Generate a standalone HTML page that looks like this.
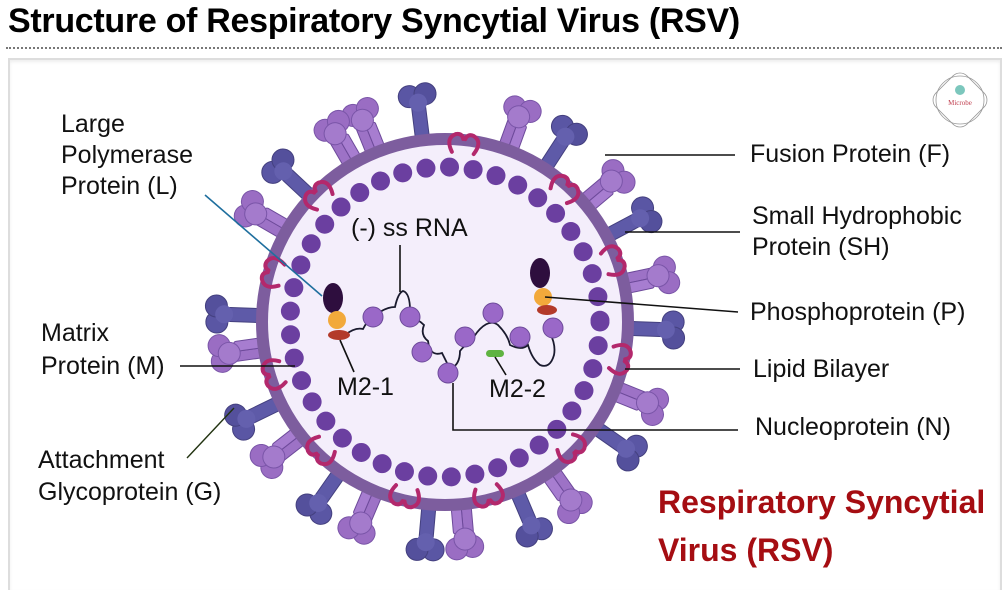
<!DOCTYPE html>
<html><head><meta charset="utf-8"><style>
html,body{margin:0;padding:0;background:#fff;}
body{width:1004px;height:587px;overflow:hidden;position:relative;font-family:"Liberation Sans",sans-serif;}
.t{position:absolute;font-size:25px;line-height:31px;color:#111;white-space:nowrap;}
</style></head><body>
<div style="position:absolute;left:8px;top:2px;font:bold 34px 'Liberation Sans',sans-serif;letter-spacing:-0.3px;color:#000;">Structure of Respiratory Syncytial Virus (RSV)</div>
<div style="position:absolute;left:6px;top:47px;width:996px;border-top:2px dotted #777;"></div>
<div style="position:absolute;left:8px;top:58px;width:990px;height:530px;border:2px solid #ddd;border-bottom:none;box-shadow:inset 0 2px 3px #eee;"></div>
<svg style="position:absolute;left:0;top:0" width="1004" height="587">
<defs>
<g id="F">
<rect x="-10" y="-30" width="10" height="36" rx="2" fill="#9d72c6" stroke="#6d4a9a" stroke-width="1"/>
<rect x="0" y="-26" width="10" height="32" rx="2" fill="#a77dd0" stroke="#6d4a9a" stroke-width="1"/>
<circle cx="-8" cy="-40" r="11" fill="#9a6dc3" stroke="#7a55a8"/>
<circle cx="8" cy="-41" r="11" fill="#9a6dc3" stroke="#7a55a8"/>
<circle cx="-1" cy="-32" r="11" fill="#a47bcc" stroke="#7a55a8"/>
</g>
<g id="G">
<rect x="-7" y="-32" width="14" height="38" rx="3" fill="#5e5aa8" stroke="#44407f" stroke-width="1"/>
<circle cx="-8" cy="-42" r="11" fill="#5a56a4" stroke="#44407f"/>
<circle cx="8" cy="-43" r="11" fill="#54509c" stroke="#44407f"/>
<circle cx="0" cy="-35" r="9" fill="#6460ae"/>
</g>
<g id="M" fill="none" stroke="#b3286c" stroke-width="4" stroke-linecap="round">
<path d="M-11,8 q-8,-13 2,-18 q6,-2 8,4"/>
<path d="M11,8 q8,-13 -2,-18 q-6,-2 -8,4"/>
</g>
</defs>
<g transform="translate(445,322)">
<circle r="183" fill="#f4eefb"/>
<circle r="155" fill="none" stroke="#6b3fa0" stroke-width="19" stroke-dasharray="0 23.7" stroke-linecap="round"/>
<g>
<use href="#F" transform="rotate(-22) translate(0,-186)"/>
<use href="#G" transform="rotate(-7) translate(0,-186)"/>
<use href="#F" transform="rotate(20) translate(0,-186)"/>
<use href="#G" transform="rotate(33) translate(0,-186)"/>
<use href="#F" transform="rotate(50) translate(0,-186)"/>
<use href="#G" transform="rotate(62) translate(0,-186)"/>
<use href="#F" transform="rotate(78) translate(0,-186)"/>
<use href="#G" transform="rotate(92) translate(0,-186)"/>
<use href="#F" transform="rotate(112) translate(0,-186)"/>
<use href="#G" transform="rotate(125) translate(0,-186)"/>
<use href="#F" transform="rotate(145) translate(0,-186)"/>
<use href="#G" transform="rotate(157) translate(0,-186)"/>
<use href="#F" transform="rotate(175) translate(0,-186)"/>
<use href="#G" transform="rotate(185) translate(0,-186)"/>
<use href="#F" transform="rotate(203) translate(0,-186)"/>
<use href="#G" transform="rotate(215) translate(0,-186)"/>
<use href="#F" transform="rotate(232) translate(0,-186)"/>
<use href="#G" transform="rotate(244) translate(0,-186)"/>
<use href="#F" transform="rotate(262) translate(0,-186)"/>
<use href="#G" transform="rotate(272) translate(0,-186)"/>
<use href="#F" transform="rotate(300) translate(0,-186)"/>
<use href="#G" transform="rotate(313) translate(0,-186)"/>
<use href="#F" transform="rotate(330) translate(0,-186)"/>
</g>
<circle r="183" fill="none" stroke="#7d5d9e" stroke-width="12"/>
<use href="#M" transform="rotate(6) translate(0,-178)"/>
<use href="#M" transform="rotate(42) translate(0,-178)"/>
<use href="#M" transform="rotate(70) translate(0,-178)"/>
<use href="#M" transform="rotate(102) translate(0,-178)"/>
<use href="#M" transform="rotate(135) translate(0,-178)"/>
<use href="#M" transform="rotate(166) translate(0,-178)"/>
<use href="#M" transform="rotate(193) translate(0,-178)"/>
<use href="#M" transform="rotate(224) translate(0,-178)"/>
<use href="#M" transform="rotate(253) translate(0,-178)"/>
<use href="#M" transform="rotate(286) translate(0,-178)"/>
<use href="#M" transform="rotate(315) translate(0,-178)"/>
</g>
<path d="M345,335 q10,-8 18,-6 q4,-8 10,-12 q12,-10 22,-10 q3,-14 8,-16 q8,2 7,26 q8,2 14,8 q-4,10 4,16 q2,16 14,12 q4,8 8,16 q10,-4 10,-18 q6,-8 10,-6 q4,-10 10,-16 q10,-10 18,-4 q10,10 12,20 q12,6 18,0 q4,14 12,20 q10,4 14,-10 q2,-10 -4,-22" fill="none" stroke="#1a1a2e" stroke-width="1.8"/>
<g fill="#9a68c8" stroke="#6d4a9a">
<circle cx="373" cy="317" r="10"/><circle cx="410" cy="317" r="10"/><circle cx="422" cy="352" r="10"/><circle cx="448" cy="373" r="10"/><circle cx="465" cy="337" r="10"/><circle cx="493" cy="313" r="10"/><circle cx="520" cy="337" r="10"/><circle cx="553" cy="328" r="10"/>
</g>
<ellipse cx="333" cy="298" rx="10" ry="15" fill="#2e0e3e"/>
<circle cx="337" cy="320" r="9" fill="#f2a93b"/>
<ellipse cx="339" cy="335" rx="11" ry="5" fill="#b33a2a"/>
<ellipse cx="540" cy="273" rx="10" ry="15" fill="#2e0e3e"/>
<circle cx="543" cy="297" r="9" fill="#f2a93b"/>
<ellipse cx="547" cy="310" rx="10" ry="5" fill="#b33a2a"/>
<rect x="486" y="350" width="18" height="7" rx="3.5" fill="#5fb341"/>
<g stroke="#111" stroke-width="1.6" fill="none">
<line x1="400" y1="245" x2="400" y2="292"/>
<line x1="340" y1="340" x2="354" y2="372"/>
<line x1="495" y1="357" x2="506" y2="375"/>
<path d="M453,383 V430 H738"/>
<line x1="605" y1="155" x2="735" y2="155"/>
<line x1="625" y1="232" x2="740" y2="232"/>
<line x1="545" y1="297" x2="738" y2="312"/>
<line x1="625" y1="369" x2="740" y2="369"/>
<line x1="180" y1="366" x2="295" y2="366"/>
</g>
<line x1="205" y1="195" x2="322" y2="296" stroke="#1f6f9e" stroke-width="1.6"/>
<line x1="187" y1="458" x2="234" y2="408" stroke="#223311" stroke-width="1.4"/>
<g transform="translate(960,100)" fill="none" stroke="#999" stroke-width="0.8">
<rect x="-22" y="-22" width="44" height="44" rx="10" transform="rotate(45)"/>
<circle r="24"/>
<circle cx="0" cy="-10" r="5" fill="#7cc7bd" stroke="none"/>
<text x="0" y="5" font-size="7" fill="#c04050" stroke="none" text-anchor="middle" font-family="Liberation Serif">Microbe</text>
</g>
</svg>
<div class="t" style="left:61px;top:109px;">Large<br>Polymerase<br>Protein (L)</div>
<div class="t" style="left:41px;top:317px;line-height:33px;">Matrix<br>Protein (M)</div>
<div class="t" style="left:38px;top:444px;line-height:32px;">Attachment<br>Glycoprotein (G)</div>
<div class="t" style="left:351px;top:213px;">(-) ss RNA</div>
<div class="t" style="left:337px;top:372px;">M2-1</div>
<div class="t" style="left:489px;top:374px;">M2-2</div>
<div class="t" style="left:750px;top:139px;">Fusion Protein (F)</div>
<div class="t" style="left:752px;top:201px;line-height:31px;">Small Hydrophobic<br>Protein (SH)</div>
<div class="t" style="left:750px;top:297px;">Phosphoprotein (P)</div>
<div class="t" style="left:753px;top:354px;">Lipid Bilayer</div>
<div class="t" style="left:755px;top:412px;">Nucleoprotein (N)</div>
<div style="position:absolute;left:658px;top:478px;font:bold 32px/48px 'Liberation Sans',sans-serif;color:#a50d12;white-space:nowrap;">Respiratory Syncytial<br>Virus (RSV)</div>
</body></html>
